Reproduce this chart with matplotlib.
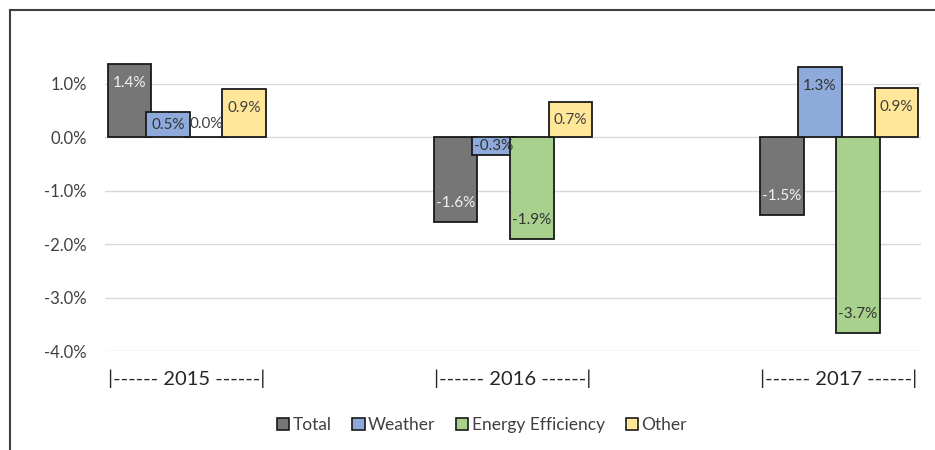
import numpy as np
import matplotlib
matplotlib.use("Agg")
import matplotlib.pyplot as plt
from matplotlib.lines import Line2D
from matplotlib.ticker import FuncFormatter

plt.rcParams['font.family'] = ['Lato', 'DejaVu Sans']

years = ['2015', '2016', '2017']
series = ['Total', 'Weather', 'Energy Efficiency', 'Other']
total = [1.37, -1.59, -1.46]
weather = [0.47, -0.34, 1.31]
energy = [0.0, -1.91, -3.66]
other = [0.90, 0.66, 0.92]

colors = ['#767676', '#8eaadb', '#a9d18e', '#ffe699']
label_colors = ['#f2f2f2', '#333333', '#333333', '#404040']

fig = plt.figure(figsize=(9.35, 4.5), dpi=100)
ax = fig.add_axes([105 / 935, (450 - 351) / 450, (921 - 105) / 935, (351 - 57) / 450])

x = np.arange(len(years))
width = 0.132
step = 0.1166
all_vals = [total, weather, energy, other]

ax.set_ylim(-4.0, 1.5)
ax.set_xlim(-0.2515, 2.2515)

bars_all = []
for i, vals in enumerate(all_vals):
    pos = x + (i - 1.5) * step
    ax.bar(pos, vals, width, color=colors[i], edgecolor='#1a1a1a',
           linewidth=1.3, zorder=3 + i * 0.1)
    bars_all.append((pos, vals))

# data labels, inside end
fig.canvas.draw()
for i, (pos, vals) in enumerate(bars_all):
    for px, v in zip(pos, vals):
        y0 = ax.transData.transform((px, 0))[1]
        y1 = ax.transData.transform((px, v))[1]
        h = abs(y1 - y0)
        if v == 0:
            off = 13
            col = '#404040'
        else:
            off = min(19, h / 2)
            off = -off if v > 0 else off
            col = label_colors[i]
        ax.annotate(f'{v:.1f}%', (px, v), xytext=(0, off), textcoords='offset pixels',
                    ha='center', va='center', fontsize=11, color=col, zorder=10)

ax.yaxis.set_major_formatter(FuncFormatter(lambda v, p: f'{v:.1f}%'))
ax.set_yticks([-4, -3, -2, -1, 0, 1])
ax.grid(axis='y', color='#d9d9d9', linewidth=1, zorder=0)
for s in ax.spines.values():
    s.set_visible(False)
ax.tick_params(axis='y', length=0, pad=13, labelsize=12, labelcolor='#404040')
ax.set_xticks(x)
ax.set_xticklabels(['|------ ' + y + ' ------|' for y in years])
ax.tick_params(axis='x', length=0, pad=13, labelsize=14.5, labelcolor='#262626')

handles = [plt.Rectangle((0, 0), 1, 1, facecolor=c, edgecolor='#1a1a1a', linewidth=1.2) for c in colors]
fig.legend(handles, series, loc='center', bbox_to_anchor=(482 / 935, 1 - 425 / 450), ncol=4,
           frameon=False, fontsize=12.5, handlelength=0.7, handleheight=0.7,
           handletextpad=0.2, columnspacing=1.2, labelcolor='#404040')

# outer frame (left and top edges visible)
fig.add_artist(Line2D([10 / 935, 10 / 935], [0, 1 - 10 / 450], transform=fig.transFigure,
                      color='#404040', linewidth=1.5))
fig.add_artist(Line2D([10 / 935, 1], [1 - 10 / 450, 1 - 10 / 450], transform=fig.transFigure,
                      color='#404040', linewidth=1.5))

fig.savefig('out.png', dpi=100)
